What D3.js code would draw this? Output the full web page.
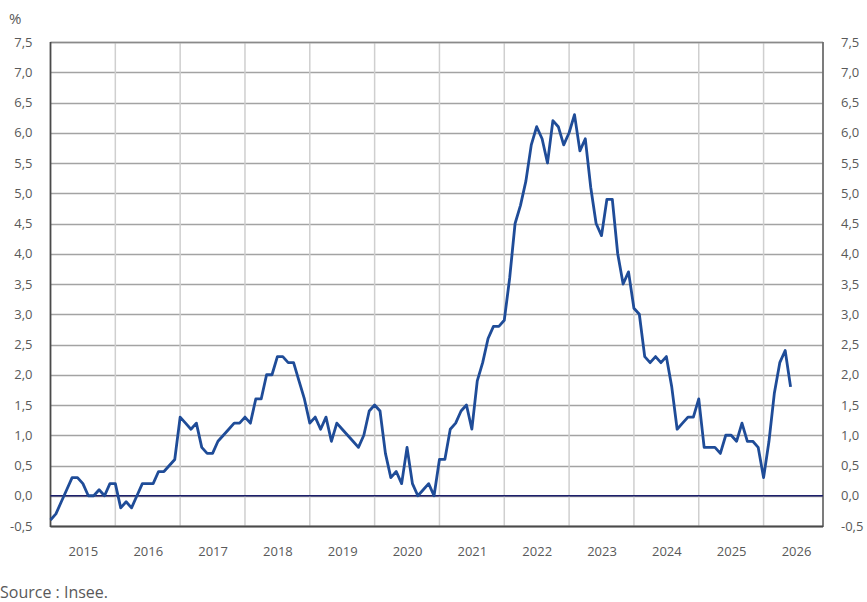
<!DOCTYPE html>
<html>
<head>
<meta charset="utf-8">
<script src="https://cdn.jsdelivr.net/npm/d3@7"></script>
<style>
  html, body { margin: 0; padding: 0; background: #fff; }
  svg { display: block; font-family: "Open Sans", sans-serif; }
  .lbl text { fill: #595959; font-size: 13px; }
</style>
</head>
<body>
<svg id="chart" width="867" height="602"></svg>
<script>
// glissement annuel mensuel, janvier 2015 -> juin 2026
const startYear = 2015
const years = d3.range(2015, 2027)
const yTicks = d3.range(-0.5, 7.51, 0.5)

const v2015 = [-0.4, -0.3, -0.1, 0.1, 0.3, 0.3, 0.2, 0.0, 0.0, 0.1, 0.0, 0.2]
const v2016 = [0.2, -0.2, -0.1, -0.2, 0.0, 0.2, 0.2, 0.2, 0.4, 0.4, 0.5, 0.6]
const v2017 = [1.3, 1.2, 1.1, 1.2, 0.8, 0.7, 0.7, 0.9, 1.0, 1.1, 1.2, 1.2]
const v2018 = [1.3, 1.2, 1.6, 1.6, 2.0, 2.0, 2.3, 2.3, 2.2, 2.2, 1.9, 1.6]
const v2019 = [1.2, 1.3, 1.1, 1.3, 0.9, 1.2, 1.1, 1.0, 0.9, 0.8, 1.0, 1.4]
const v2020 = [1.5, 1.4, 0.7, 0.3, 0.4, 0.2, 0.8, 0.2, 0.0, 0.1, 0.2, 0.0]
const v2021 = [0.6, 0.6, 1.1, 1.2, 1.4, 1.5, 1.1, 1.9, 2.2, 2.6, 2.8, 2.8]
const v2022 = [2.9, 3.6, 4.5, 4.8, 5.2, 5.8, 6.1, 5.9, 5.5, 6.2, 6.1, 5.8]
const v2023 = [6.0, 6.3, 5.7, 5.9, 5.1, 4.5, 4.3, 4.9, 4.9, 4.0, 3.5, 3.7]
const v2024 = [3.1, 3.0, 2.3, 2.2, 2.3, 2.2, 2.3, 1.8, 1.1, 1.2, 1.3, 1.3]
const v2025 = [1.6, 0.8, 0.8, 0.8, 0.7, 1.0, 1.0, 0.9, 1.2, 0.9, 0.9, 0.8]
const v2026 = [0.3, 0.9, 1.7, 2.2, 2.4, 1.8]

const values = [].concat(v2015, v2016, v2017, v2018, v2019, v2020, v2021, v2022, v2023, v2024, v2025, v2026)
const data = values.map((v, i) => ({ m: i, v }))

const svg = d3.select('#chart')
const plotL = 50.5, plotR = 823, plotT = 42, plotB = 526

// echelles : un point par mois, le cadre couvre 144 mois
const x = d3.scaleLinear().domain([0, 143]).range([plotL, plotR])
const y = d3.scaleLinear().domain([-0.5, 7.5]).range([plotB, plotT])
const fmt = d => d.toFixed(1).replace('.', ',')

// grille horizontale
svg.append('g')
  .selectAll('line')
  .data(yTicks)
  .join('line')
  .attr('x1', plotL).attr('x2', plotR)
  .attr('y1', d => Math.round(y(d)) + 0.5).attr('y2', d => Math.round(y(d)) + 0.5)
  .attr('stroke', '#a3a3a3')
  .attr('stroke-width', 1.3)

// grille verticale (debut de chaque annee)
svg.append('g')
  .selectAll('line')
  .data(years.slice(1))
  .join('line')
  .attr('x1', d => x((d - startYear) * 12)).attr('x2', d => x((d - startYear) * 12))
  .attr('y1', plotT).attr('y2', plotB)
  .attr('stroke', '#cfcfcf')
  .attr('stroke-width', 1.5)

// cadre
svg.append('line').attr('x1', plotL).attr('x2', plotR).attr('y1', plotT + 0.5).attr('y2', plotT + 0.5)
  .attr('stroke', '#8a8a8a').attr('stroke-width', 1.5)
svg.append('line').attr('x1', plotR).attr('x2', plotR).attr('y1', plotT).attr('y2', plotB + 1)
  .attr('stroke', '#6e6e6e').attr('stroke-width', 1.8)
svg.append('line').attr('x1', plotL).attr('x2', plotL).attr('y1', plotT).attr('y2', plotB + 1)
  .attr('stroke', '#4a4a4a').attr('stroke-width', 1.8)
svg.append('line').attr('x1', plotL).attr('x2', plotR).attr('y1', plotB + 0.5).attr('y2', plotB + 0.5)
  .attr('stroke', '#4a4a4a').attr('stroke-width', 1.8)

// ligne du zero
svg.append('line')
  .attr('x1', plotL).attr('x2', plotR)
  .attr('y1', y(0)).attr('y2', y(0))
  .attr('stroke', '#1c1f6b')
  .attr('stroke-width', 1.6)

// serie
svg.append('path')
  .datum(data)
  .attr('fill', 'none')
  .attr('stroke', '#1f4c98')
  .attr('stroke-width', 2.8)
  .attr('stroke-linejoin', 'round')
  .attr('d', d3.line().x(d => x(d.m)).y(d => y(d.v)))

// axes (etiquettes seulement)
const yAxisL = d3.axisLeft(y).tickValues(yTicks).tickFormat(fmt).tickSize(0).tickPadding(18)
const yAxisR = d3.axisRight(y).tickValues(yTicks).tickFormat(fmt).tickSize(0).tickPadding(18)
svg.append('g').attr('class', 'lbl').attr('transform', `translate(${plotL},0)`).call(yAxisL)
svg.append('g').attr('class', 'lbl').attr('transform', `translate(${plotR},0)`).call(yAxisR)

const xAxis = d3.axisBottom(x)
  .tickValues(years.map(yr => (yr - startYear) * 12 + 6))
  .tickFormat((_, i) => years[i])
  .tickSize(0)
  .tickPadding(21)
svg.append('g').attr('class', 'lbl').attr('transform', `translate(0,${plotB})`).call(xAxis)

svg.selectAll('.lbl .domain').remove()
svg.selectAll('.lbl text').attr('font-family', '"Open Sans", sans-serif')

// unite
svg.append('text')
  .attr('x', 9).attr('y', 24)
  .attr('fill', '#595959')
  .attr('font-size', 15)
  .text('%')

// source
svg.append('text')
  .attr('x', 0).attr('y', 598)
  .attr('fill', '#595959')
  .attr('font-size', 16)
  .text('Source : Insee.')
</script>
</body>
</html>
